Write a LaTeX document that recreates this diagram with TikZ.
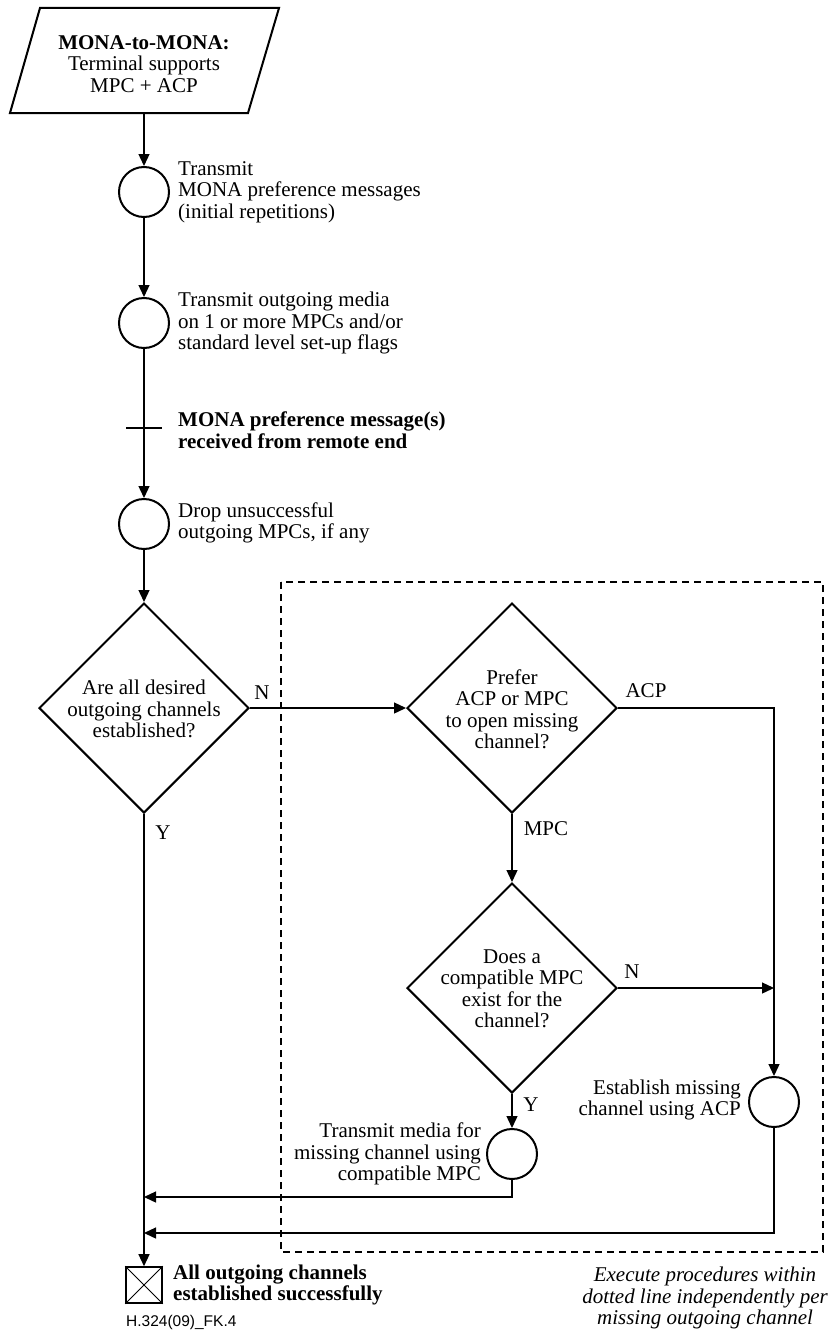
\documentclass[tikz,border=0pt]{standalone}
\usepackage{fontspec}
\setmainfont{Liberation Serif}
\setsansfont{Liberation Sans}
\usetikzlibrary{shapes.geometric,arrows.meta}
\begin{document}
\begin{tikzpicture}[x=1pt,y=-1pt,
  every node/.style={font=\fontsize{21}{21.5}\selectfont, inner sep=0pt},
  shapeline/.style={line width=2pt, line join=miter},
  conn/.style={line width=1.3pt},
  arr/.style={conn,-{Triangle[length=12pt,width=11pt]}},
  proc/.style={circle,draw,shapeline,minimum size=50pt},
  dec/.style={diamond,draw,shapeline,minimum width=210pt,minimum height=210pt,aspect=1},
  txt/.style={align=center},
  ltxt/.style={anchor=west,align=left},
  rtxt/.style={anchor=east,align=right},
  boxline/.style={dashed,line width=1.1pt,dash pattern=on 7pt off 5pt},
]
\useasboundingbox (0,0) rectangle (832,1330);

% dashed region
\draw[boxline] (281,582) rectangle (823,1252);

% start parallelogram
\draw[shapeline] (40,8) -- (279,8) -- (248,113) -- (10,113) -- cycle;
\node[txt] (start) at (144,64) {\textbf{MONA-to-MONA:}\\Terminal supports\\MPC + ACP};
\coordinate (startb) at (144,113);

% process circles
\node[proc] (c1) at (144,192) {};
\node[proc] (c2) at (144,323) {};
\coordinate (tk) at (144,428);
\node[proc] (c3) at (144,524) {};

\node[ltxt] (t1) at (178,192) {Transmit\\MONA preference messages\\(initial repetitions)};
\node[ltxt] (t2) at (178,323) {Transmit outgoing media\\on 1 or more MPCs and/or\\standard level set-up flags};
\node[ltxt,font=\fontsize{21}{21.5}\selectfont\bfseries] (t3) at (178,430) {MONA preference message(s)\\received from remote end};
\node[ltxt] (t4) at (178,523) {Drop unsuccessful\\outgoing MPCs, if any};

% decisions
\node[dec] (d1) at (144,708) {};
\node[txt] (d1t) at (144,709) {Are all desired\\outgoing channels\\established?};
\node[dec] (d2) at (512,708) {};
\node[txt] (d2t) at (512,709) {Prefer\\ACP or MPC\\to open missing\\channel?};
\node[dec] (d3) at (512,988) {};
\node[txt] (d3t) at (512,989) {Does a\\compatible MPC\\exist for the\\channel?};

\node[proc] (c4) at (512,1154) {};
\node[rtxt] (t5) at (481,1154) {Transmit media for\\missing channel using\\compatible MPC};
\node[proc] (c5) at (774,1102) {};
\node[rtxt] (t6) at (741,1100) {Establish missing\\channel using ACP};

% end
\node[draw,line width=1.6pt,minimum size=36pt] (end) at (144,1285) {};
\draw[line width=1pt] (end.north west) -- (end.south east) (end.north east) -- (end.south west);
\node[ltxt,font=\fontsize{21}{21.5}\selectfont\bfseries] (t7) at (173,1285) {All outgoing channels\\established successfully};
\node[anchor=west,font=\sffamily\fontsize{15.5}{16}\selectfont] (fig) at (126,1322) {H.324(09)\_FK.4};
\node[txt,font=\fontsize{21}{21.5}\selectfont\itshape] (note) at (705,1298) {Execute procedures within\\dotted line independently per\\missing outgoing channel};

% labels
\node (lN1) at (262,693) {N};
\node (lY1) at (163,833) {Y};
\node (lACP) at (646,691) {ACP};
\node (lMPC) at (546,829) {MPC};
\node (lN2) at (632,972) {N};
\node (lY2) at (531,1105) {Y};

% coordinates for returns
\coordinate (r1) at (144,1197);
\coordinate (r2) at (144,1233);

% connectors
\draw[arr] (startb) -- (c1.north);
\draw[arr] (c1.south) -- (c2.north);
\draw[arr] (c2.south) -- (c3.north);
\draw[conn] ([xshift=-18pt]tk) -- ([xshift=18pt]tk);
\draw[arr] (c3.south) -- (d1.north);
\draw[arr] (d1.east) -- (d2.west);
\draw[arr] (d2.south) -- (d3.north);
\draw[arr] (d2.east) -| (c5.north);
\draw[arr] (d3.east) -- (d3.east -| c5.north);
\draw[arr] (d3.south) -- (c4.north);
\draw[arr] (c4.south) |- (r1);
\draw[arr] (c5.south) |- (r2);
\draw[arr] (d1.south) -- (end.north);
\end{tikzpicture}
\end{document}
